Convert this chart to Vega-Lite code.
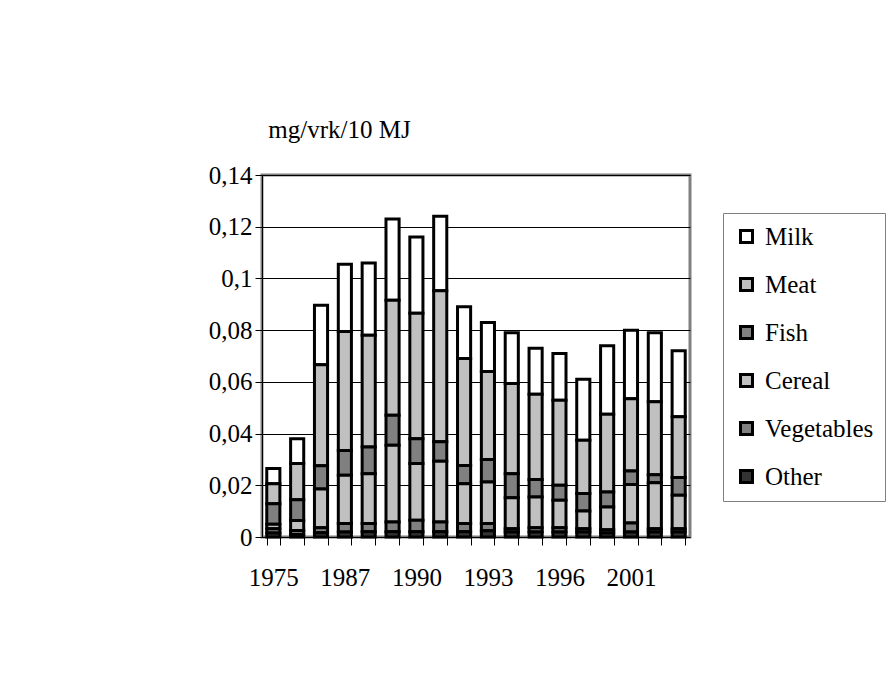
{
  "$schema": "https://vega.github.io/schema/vega-lite/v6.json",
  "width": 428,
  "height": 362,
  "autosize": "none",
  "padding": {"left": 262, "top": 175, "right": 198, "bottom": 141},
  "background": "white",
  "datasets": {
    "d": [
      {"year":"1975","cat":"Milk","value":0.0059},{"year":"1975","cat":"Meat","value":0.0077},{"year":"1975","cat":"Fish","value":0.008},{"year":"1975","cat":"Cereal","value":0.0017},{"year":"1975","cat":"Vegetables","value":0.0017},{"year":"1975","cat":"Other","value":0.0015},
      {"year":"1980","cat":"Milk","value":0.0096},{"year":"1980","cat":"Meat","value":0.014},{"year":"1980","cat":"Fish","value":0.008},{"year":"1980","cat":"Cereal","value":0.0039},{"year":"1980","cat":"Vegetables","value":0.0015},{"year":"1980","cat":"Other","value":0.001},
      {"year":"1985","cat":"Milk","value":0.023},{"year":"1985","cat":"Meat","value":0.039},{"year":"1985","cat":"Fish","value":0.009},{"year":"1985","cat":"Cereal","value":0.015},{"year":"1985","cat":"Vegetables","value":0.002},{"year":"1985","cat":"Other","value":0.0016},
      {"year":"1987","cat":"Milk","value":0.026},{"year":"1987","cat":"Meat","value":0.046},{"year":"1987","cat":"Fish","value":0.0096},{"year":"1987","cat":"Cereal","value":0.0187},{"year":"1987","cat":"Vegetables","value":0.0033},{"year":"1987","cat":"Other","value":0.0019},
      {"year":"1988","cat":"Milk","value":0.028},{"year":"1988","cat":"Meat","value":0.0432},{"year":"1988","cat":"Fish","value":0.0103},{"year":"1988","cat":"Cereal","value":0.0193},{"year":"1988","cat":"Vegetables","value":0.0032},{"year":"1988","cat":"Other","value":0.002},
      {"year":"1989","cat":"Milk","value":0.0314},{"year":"1989","cat":"Meat","value":0.0445},{"year":"1989","cat":"Fish","value":0.0116},{"year":"1989","cat":"Cereal","value":0.0297},{"year":"1989","cat":"Vegetables","value":0.0038},{"year":"1989","cat":"Other","value":0.002},
      {"year":"1990","cat":"Milk","value":0.0295},{"year":"1990","cat":"Meat","value":0.0485},{"year":"1990","cat":"Fish","value":0.0096},{"year":"1990","cat":"Cereal","value":0.0219},{"year":"1990","cat":"Vegetables","value":0.0045},{"year":"1990","cat":"Other","value":0.002},
      {"year":"1991","cat":"Milk","value":0.0288},{"year":"1991","cat":"Meat","value":0.0584},{"year":"1991","cat":"Fish","value":0.0075},{"year":"1991","cat":"Cereal","value":0.0235},{"year":"1991","cat":"Vegetables","value":0.0038},{"year":"1991","cat":"Other","value":0.002},
      {"year":"1992","cat":"Milk","value":0.02},{"year":"1992","cat":"Meat","value":0.0413},{"year":"1992","cat":"Fish","value":0.0071},{"year":"1992","cat":"Cereal","value":0.0154},{"year":"1992","cat":"Vegetables","value":0.0032},{"year":"1992","cat":"Other","value":0.002},
      {"year":"1993","cat":"Milk","value":0.019},{"year":"1993","cat":"Meat","value":0.034},{"year":"1993","cat":"Fish","value":0.0087},{"year":"1993","cat":"Cereal","value":0.0161},{"year":"1993","cat":"Vegetables","value":0.0028},{"year":"1993","cat":"Other","value":0.0024},
      {"year":"1994","cat":"Milk","value":0.0196},{"year":"1994","cat":"Meat","value":0.0349},{"year":"1994","cat":"Fish","value":0.0093},{"year":"1994","cat":"Cereal","value":0.012},{"year":"1994","cat":"Vegetables","value":0.0013},{"year":"1994","cat":"Other","value":0.0019},
      {"year":"1995","cat":"Milk","value":0.0178},{"year":"1995","cat":"Meat","value":0.033},{"year":"1995","cat":"Fish","value":0.0067},{"year":"1995","cat":"Cereal","value":0.0119},{"year":"1995","cat":"Vegetables","value":0.0017},{"year":"1995","cat":"Other","value":0.0019},
      {"year":"1996","cat":"Milk","value":0.0181},{"year":"1996","cat":"Meat","value":0.0329},{"year":"1996","cat":"Fish","value":0.0058},{"year":"1996","cat":"Cereal","value":0.0106},{"year":"1996","cat":"Vegetables","value":0.0017},{"year":"1996","cat":"Other","value":0.0019},
      {"year":"1997","cat":"Milk","value":0.0236},{"year":"1997","cat":"Meat","value":0.0206},{"year":"1997","cat":"Fish","value":0.0067},{"year":"1997","cat":"Cereal","value":0.0069},{"year":"1997","cat":"Vegetables","value":0.0013},{"year":"1997","cat":"Other","value":0.0019},
      {"year":"1999","cat":"Milk","value":0.0265},{"year":"1999","cat":"Meat","value":0.0301},{"year":"1999","cat":"Fish","value":0.0058},{"year":"1999","cat":"Cereal","value":0.0088},{"year":"1999","cat":"Vegetables","value":0.0013},{"year":"1999","cat":"Other","value":0.0015},
      {"year":"2001","cat":"Milk","value":0.0265},{"year":"2001","cat":"Meat","value":0.028},{"year":"2001","cat":"Fish","value":0.0052},{"year":"2001","cat":"Cereal","value":0.0149},{"year":"2001","cat":"Vegetables","value":0.0035},{"year":"2001","cat":"Other","value":0.0019},
      {"year":"2002","cat":"Milk","value":0.0267},{"year":"2002","cat":"Meat","value":0.0282},{"year":"2002","cat":"Fish","value":0.0031},{"year":"2002","cat":"Cereal","value":0.0178},{"year":"2002","cat":"Vegetables","value":0.0013},{"year":"2002","cat":"Other","value":0.0019},
      {"year":"2003","cat":"Milk","value":0.0255},{"year":"2003","cat":"Meat","value":0.0235},{"year":"2003","cat":"Fish","value":0.0069},{"year":"2003","cat":"Cereal","value":0.0129},{"year":"2003","cat":"Vegetables","value":0.0013},{"year":"2003","cat":"Other","value":0.0019}
    ]
  },
  "data": {"name": "d"},
  "transform": [
    {"calculate": "indexof(['Other','Vegetables','Cereal','Fish','Meat','Milk'], datum.cat)", "as": "ord"}
  ],
  "mark": {"type": "bar", "stroke": "black", "strokeWidth": 3},
  "encoding": {
    "x": {
      "field": "year", "type": "nominal", "sort": null,
      "scale": {"paddingInner": 0.45, "paddingOuter": 0.2},
      "axis": {
        "title": null, "labelAngle": 0,
        "labelExpr": "indexof(['1975','1987','1990','1993','1996','2001'], datum.value) >= 0 ? datum.value : ''",
        "tickBand": "extent", "tickSize": 8, "tickColor": "black",
        "domainColor": "black", "domainWidth": 1,
        "labelFont": "Liberation Serif", "labelFontSize": 25, "labelColor": "black",
        "labelPadding": 20, "grid": false, "labelOverlap": false
      }
    },
    "y": {
      "field": "value", "type": "quantitative", "stack": "zero",
      "scale": {"domain": [0, 0.14], "nice": false},
      "axis": {
        "values": [0, 0.02, 0.04, 0.06, 0.08, 0.1, 0.12, 0.14],
        "labelExpr": "replace(toString(datum.value), '.', ',')",
        "title": "mg/vrk/10 MJ", "titleAngle": 0, "titleX": 77, "titleY": -46,
        "titleAlign": "center", "titleBaseline": "middle",
        "titleFont": "Liberation Serif", "titleFontSize": 25, "titleFontWeight": "normal", "titleColor": "black",
        "labelFont": "Liberation Serif", "labelFontSize": 25, "labelColor": "black",
        "tickSize": 7, "tickColor": "black", "labelPadding": 3,
        "domainColor": "black", "labelOverlap": false,
        "grid": true, "gridColor": "black", "gridWidth": 1
      }
    },
    "color": {
      "field": "cat", "type": "nominal",
      "scale": {
        "domain": ["Milk", "Meat", "Fish", "Cereal", "Vegetables", "Other"],
        "range": ["#ffffff", "#c0c0c0", "#808080", "#c0c0c0", "#808080", "#333333"]
      },
      "legend": {
        "title": null, "orient": "none", "legendX": 461, "legendY": 38,
        "symbolType": "square", "symbolSize": 144, "symbolStrokeColor": "black", "symbolStrokeWidth": 3,
        "labelFont": "Liberation Serif", "labelFontSize": 25, "labelColor": "black",
        "rowPadding": 22, "padding": 11, "labelOffset": 6, "labelLimit": 200,
        "strokeColor": "#808080", "fillColor": "white"
      }
    },
    "order": {"field": "ord", "type": "quantitative", "sort": "ascending"}
  },
  "config": {
    "view": {"stroke": "#808080", "strokeWidth": 3},
    "legend": {"symbolOpacity": 1}
  }
}
